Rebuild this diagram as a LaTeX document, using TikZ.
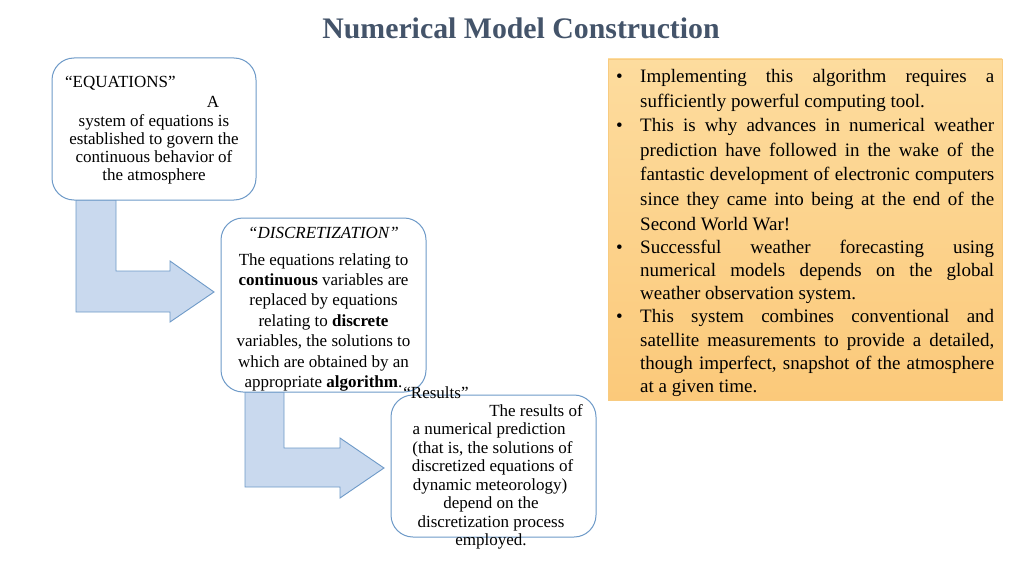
\documentclass[tikz,border=0pt]{standalone}
\usepackage{fontspec}
\setmainfont{Liberation Serif}
\definecolor{titlecol}{HTML}{44546A}
\definecolor{boxline}{HTML}{6E9AC8}
\definecolor{arrowfill}{HTML}{C9D9EE}
\definecolor{orangetop}{HTML}{FDDC9E}
\definecolor{orangebot}{HTML}{FBC97A}
\definecolor{orangeline}{HTML}{F8CB80}
\tikzset{
  roundbox/.style={draw=boxline, line width=1pt, fill=white, rounded corners=22pt, inner sep=0pt},
  blockarrow/.style={draw=boxline, line width=0.9pt, fill=arrowfill},
  txt/.style={inner sep=0pt, anchor=base, font=\fontsize{17}{20}\selectfont},
}
\newcommand{\bul}{\leavevmode\llap{\makebox[24pt][l]{\textbullet}}}
\begin{document}
\begin{tikzpicture}[x=1pt,y=-1pt]
\useasboundingbox[fill=white] (0,0) rectangle (1024,575);
% title
\node[inner sep=0pt, anchor=base, text=titlecol, font=\fontsize{29.8}{34}\selectfont\bfseries] (title) at (521,38.5) {Numerical Model Construction};

% block arrows
\draw[blockarrow] (76,200) -- (116,200) -- (116,271) -- (170,271) -- (170,261) -- (214,292) -- (170,322) -- (170,312) -- (76,312) -- cycle;
\draw[blockarrow] (245,392) -- (284,392) -- (284,448) -- (340,448) -- (340,438) -- (384,468) -- (340,498) -- (340,487) -- (245,487) -- cycle;

% box 1
\draw[roundbox] (52,58) rectangle (256,200);
\node[txt, anchor=base west] (eq) at (65,88) {“EQUATIONS”};
\node[txt] (eqA) at (213,107) {A};
\node[txt] (eq1) at (154,126) {system of equations is};
\node[txt] (eq2) at (154,144) {established to govern the};
\node[txt] (eq3) at (154,162) {continuous behavior of};
\node[txt] (eq4) at (154,180.5) {the atmosphere};

% box 2
\draw[roundbox] (221,218) rectangle (426,392);
\node[txt] (di) at (323.5,238) {\itshape “DISCRETIZATION”};
\node[txt] (di1) at (323.5,265) {The equations relating to};
\node[txt] (di2) at (323.5,285) {\textbf{continuous} variables are};
\node[txt] (di3) at (323.5,305.5) {replaced by equations};
\node[txt] (di4) at (323.5,326) {relating to \textbf{discrete}};
\node[txt] (di5) at (323.5,346.5) {variables, the solutions to};
\node[txt] (di6) at (323.5,367) {which are obtained by an};
\node[txt] (di7) at (323.5,387) {appropriate \textbf{algorithm}.};

% box 3
\draw[roundbox] (391,395) rectangle (596,537);
\node[txt] (re) at (436,398) {“Results”};
\node[txt] (re0) at (536,416) {The results of};
\node[txt] (re1) at (489,434.5) {a numerical prediction};
\node[txt] (re2) at (492.5,453) {(that is, the solutions of};
\node[txt] (re3) at (492.5,471.5) {discretized equations of};
\node[txt] (re4) at (490,490) {dynamic meteorology)};
\node[txt] (re5) at (491,508) {depend on the};
\node[txt] (re6) at (491,527) {discretization process};
\node[txt] (re7) at (491,545) {employed.};

% right box
\shade[top color=orangetop, bottom color=orangebot, draw=orangeline, line width=0.8pt] (608,59) rectangle (1002,400);
\node[inner sep=0pt, anchor=base west, text width=354pt, align=justify,
      font=\fontsize{19}{24.5}\selectfont] (bl) at (640,83) {%
\bul Implementing this algorithm requires a\linebreak sufficiently powerful computing tool.\par
\bul This is why advances in numerical weather\linebreak prediction have followed in the wake of the\linebreak fantastic development of electronic computers\linebreak since they came into being at the end of the\linebreak Second World War!\par
\fontsize{19}{23.2}\selectfont
\bul Successful weather forecasting using\linebreak numerical models depends on the global\linebreak weather observation system.\par
\bul This system combines conventional and\linebreak satellite measurements to provide a detailed,\linebreak though imperfect, snapshot of the atmosphere\linebreak at a given time.\par};
\end{tikzpicture}
\end{document}
